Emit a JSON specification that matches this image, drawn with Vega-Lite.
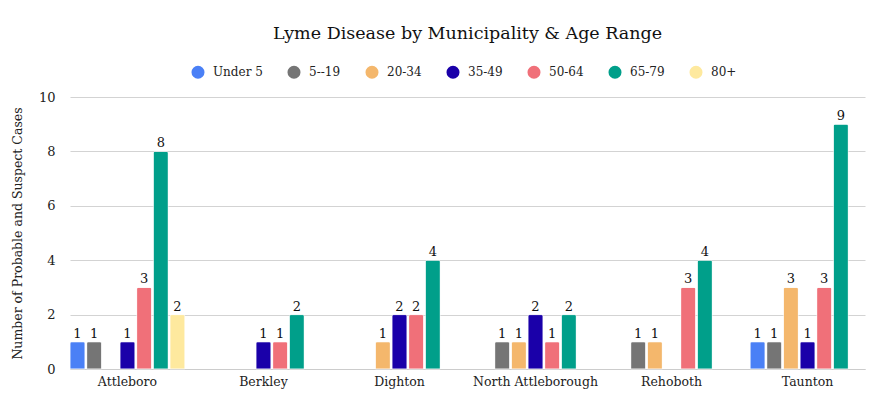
{
  "$schema": "https://vega.github.io/schema/vega-lite/v6.json",
  "width": 795,
  "height": 272,
  "autosize": {"type": "none"},
  "padding": {"left": 70, "top": 97, "right": 27, "bottom": 47},
  "title": {
    "text": "Lyme Disease by Municipality & Age Range",
    "font": "DejaVu Serif",
    "fontSize": 17.5,
    "fontWeight": "normal",
    "color": "#111111",
    "anchor": "middle",
    "offset": 23
  },
  "config": {
    "view": {"stroke": null},
    "font": "DejaVu Serif",
    "axis": {
      "labelFont": "DejaVu Serif",
      "titleFont": "DejaVu Serif",
      "labelColor": "#222222",
      "titleColor": "#222222",
      "labelFontSize": 12,
      "titleFontSize": 12.5,
      "titleFontWeight": "normal"
    },
    "legend": {
      "labelFont": "DejaVu Serif",
      "labelFontSize": 12,
      "labelColor": "#222222"
    }
  },
  "data": {
    "values": [
      {"municipality": "Attleboro", "age": "Under 5", "cases": 1},
      {"municipality": "Attleboro", "age": "5--19", "cases": 1},
      {"municipality": "Attleboro", "age": "35-49", "cases": 1},
      {"municipality": "Attleboro", "age": "50-64", "cases": 3},
      {"municipality": "Attleboro", "age": "65-79", "cases": 8},
      {"municipality": "Attleboro", "age": "80+", "cases": 2},
      {"municipality": "Berkley", "age": "35-49", "cases": 1},
      {"municipality": "Berkley", "age": "50-64", "cases": 1},
      {"municipality": "Berkley", "age": "65-79", "cases": 2},
      {"municipality": "Dighton", "age": "20-34", "cases": 1},
      {"municipality": "Dighton", "age": "35-49", "cases": 2},
      {"municipality": "Dighton", "age": "50-64", "cases": 2},
      {"municipality": "Dighton", "age": "65-79", "cases": 4},
      {"municipality": "North Attleborough", "age": "5--19", "cases": 1},
      {"municipality": "North Attleborough", "age": "20-34", "cases": 1},
      {"municipality": "North Attleborough", "age": "35-49", "cases": 2},
      {"municipality": "North Attleborough", "age": "50-64", "cases": 1},
      {"municipality": "North Attleborough", "age": "65-79", "cases": 2},
      {"municipality": "Rehoboth", "age": "5--19", "cases": 1},
      {"municipality": "Rehoboth", "age": "20-34", "cases": 1},
      {"municipality": "Rehoboth", "age": "50-64", "cases": 3},
      {"municipality": "Rehoboth", "age": "65-79", "cases": 4},
      {"municipality": "Taunton", "age": "Under 5", "cases": 1},
      {"municipality": "Taunton", "age": "5--19", "cases": 1},
      {"municipality": "Taunton", "age": "20-34", "cases": 3},
      {"municipality": "Taunton", "age": "35-49", "cases": 1},
      {"municipality": "Taunton", "age": "50-64", "cases": 3},
      {"municipality": "Taunton", "age": "65-79", "cases": 9}
    ]
  },
  "encoding": {
    "x": {
      "field": "municipality",
      "type": "nominal",
      "sort": ["Attleboro", "Berkley", "Dighton", "North Attleborough", "Rehoboth", "Taunton"],
      "scale": {"paddingInner": 0.155, "paddingOuter": 0},
      "axis": {
        "title": null,
        "labelAngle": 0,
        "ticks": false,
        "domain": true,
        "domainColor": "#cccccc",
        "labelPadding": 6,
        "labelFontSize": 12.5
      }
    },
    "xOffset": {
      "field": "age",
      "type": "nominal",
      "sort": ["Under 5", "5--19", "20-34", "35-49", "50-64", "65-79", "80+"],
      "scale": {"domain": ["Under 5", "5--19", "20-34", "35-49", "50-64", "65-79", "80+"], "paddingInner": 0.1, "paddingOuter": 0}
    },
    "y": {
      "field": "cases",
      "type": "quantitative",
      "scale": {"domain": [0, 10]},
      "axis": {
        "title": "Number of Probable and Suspect Cases",
        "values": [0, 2, 4, 6, 8, 10],
        "domain": false,
        "ticks": false,
        "gridColor": "#d3d3d3",
        "labelPadding": 15,
        "titlePadding": 14,
        "labelFontSize": 13
      }
    }
  },
  "layer": [
    {
      "mark": {"type": "bar", "cornerRadiusTopLeft": 2, "cornerRadiusTopRight": 2, "stroke": "#ffffff", "strokeWidth": 0.5},
      "encoding": {
        "color": {
          "field": "age",
          "type": "nominal",
          "scale": {
            "domain": ["Under 5", "5--19", "20-34", "35-49", "50-64", "65-79", "80+"],
            "range": ["#4a80f6", "#757575", "#f4b76c", "#1a00a9", "#f07079", "#009f8a", "#fee99e"]
          },
          "legend": {
            "title": null,
            "orient": "none",
            "direction": "horizontal",
            "legendX": 121,
            "legendY": -32,
            "symbolType": "circle",
            "symbolSize": 170,
            "symbolStrokeWidth": 0,
            "columnPadding": 24,
            "labelOffset": 8
          }
        }
      }
    },
    {
      "mark": {"type": "text", "dy": -8, "fontSize": 13, "color": "#111111", "font": "DejaVu Serif"},
      "encoding": {
        "text": {"field": "cases", "type": "quantitative"}
      }
    }
  ]
}
